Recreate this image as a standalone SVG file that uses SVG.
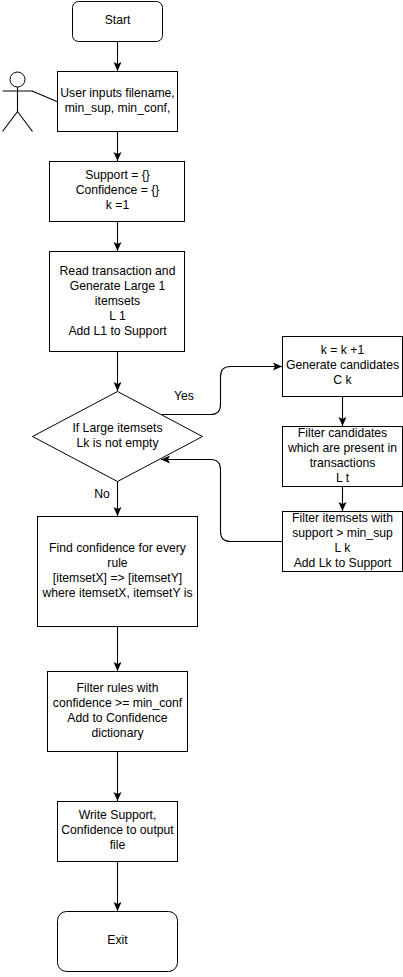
<svg xmlns="http://www.w3.org/2000/svg" width="403" height="977" viewBox="0 0 403 977">
<defs>
<marker id="arrow" markerUnits="userSpaceOnUse" markerWidth="10" markerHeight="10" refX="9" refY="4" orient="auto">
<path d="M0,0 L9,4 L0,8 L2,4 Z" fill="#000"/>
</marker>
</defs>
<style>
rect,polygon{fill:#fff;stroke:#000;stroke-width:1}
.c{fill:none;stroke:#000;stroke-width:1.1}
.a{marker-end:url(#arrow)}
text{font-family:"Liberation Sans",Arial,sans-serif;font-size:12.2px;fill:#000;text-anchor:middle}
</style>
<rect width="403" height="977" style="fill:#fff;stroke:none"/>
<g id="connectors">
<path class="c a" d="M117.500 41V71"/>
<path class="c a" d="M117.500 131V161"/>
<path class="c a" d="M117.500 221V251"/>
<path class="c a" d="M117.500 351V391"/>
<path class="c a" d="M117.500 481V516"/>
<path class="c a" d="M117.500 626V671"/>
<path class="c a" d="M117.500 751V801"/>
<path class="c a" d="M117.500 861V911"/>
<path class="c a" d="M162 414.500H210.500Q220.500 414.500 220.500 404.500V376.500Q220.500 366.500 230.500 366.500H282"/>
<path class="c a" d="M342.500 396V426"/>
<path class="c a" d="M342.500 486V511"/>
<path class="c a" d="M282 541.500H230.500Q220.500 541.500 220.500 531.500V469.500Q220.500 459.500 210.500 459.500H161"/>
<path class="c" d="M57 101.500L32 91"/>
</g>
<g id="start"><rect x="72.500" y="1.500" width="90" height="40" rx="6" ry="6"/><text x="117.500" y="24">Start</text></g>
<g id="actor">
<circle cx="17.500" cy="79.500" r="7.500" fill="#fff" stroke="#000"/>
<path class="c" d="M17.500 87V111.500M2.500 91H32.500M17.500 111.500L2.500 131.500M17.500 111.500L32.500 131.500"/>
</g>
<g id="input"><rect x="57.500" y="71.500" width="120" height="60"/><text x="117.500" y="97">User inputs filename,</text><text x="117.500" y="112">min_sup, min_conf,</text></g>
<g id="init"><rect x="49.500" y="161.500" width="135" height="60"/><text x="117.500" y="179">Support = {}</text><text x="117.500" y="194">Confidence = {}</text><text x="117.500" y="209">k =1</text></g>
<g id="read"><rect x="49.500" y="251.500" width="135" height="100"/><text x="117.500" y="275">Read transaction and</text><text x="117.500" y="290">Generate Large 1</text><text x="117.500" y="305">itemsets</text><text x="117.500" y="320">L 1</text><text x="117.500" y="335">Add L1 to Support</text></g>
<g id="decision"><polygon points="117.500,391.500 202.500,436.500 117.500,481.500 32.500,436.500"/><text x="117.500" y="432">If Large itemsets</text><text x="117.500" y="447">Lk is not empty</text></g>
<g id="yes-label"><text x="184" y="400">Yes</text></g>
<g id="no-label"><text x="102" y="498">No</text></g>
<g id="generate"><rect x="282.500" y="336.500" width="120" height="60"/><text x="342.500" y="354">k = k +1</text><text x="342.500" y="369">Generate candidates</text><text x="342.500" y="384">C k</text></g>
<g id="filter-candidates"><rect x="282.500" y="426.500" width="120" height="60"/><text x="342.500" y="437">Filter candidates</text><text x="342.500" y="452">which are present in</text><text x="342.500" y="467">transactions</text><text x="342.500" y="482">L t</text></g>
<g id="filter-itemsets"><rect x="282.500" y="511.500" width="120" height="60"/><text x="342.500" y="522">Filter itemsets with</text><text x="342.500" y="537">support &gt; min_sup</text><text x="342.500" y="552">L k</text><text x="342.500" y="567">Add Lk to Support</text></g>
<g id="confidence"><rect x="37.500" y="516.500" width="160" height="110"/><text x="117.500" y="552">Find confidence for every</text><text x="117.500" y="567">rule</text><text x="117.500" y="582">[itemsetX] =&gt; [itemsetY]</text><text x="117.500" y="597">where itemsetX, itemsetY is</text></g>
<g id="filter-rules"><rect x="47.500" y="671.500" width="140" height="80"/><text x="117.500" y="692">Filter rules with</text><text x="117.500" y="707">confidence &gt;= min_conf</text><text x="117.500" y="722">Add to Confidence</text><text x="117.500" y="737">dictionary</text></g>
<g id="write"><rect x="57.500" y="801.500" width="120" height="60"/><text x="117.500" y="819">Write Support,</text><text x="117.500" y="834">Confidence to output</text><text x="117.500" y="849">file</text></g>
<g id="exit"><rect x="57.500" y="911.500" width="120" height="60" rx="9" ry="9"/><text x="117.500" y="944">Exit</text></g>
</svg>
